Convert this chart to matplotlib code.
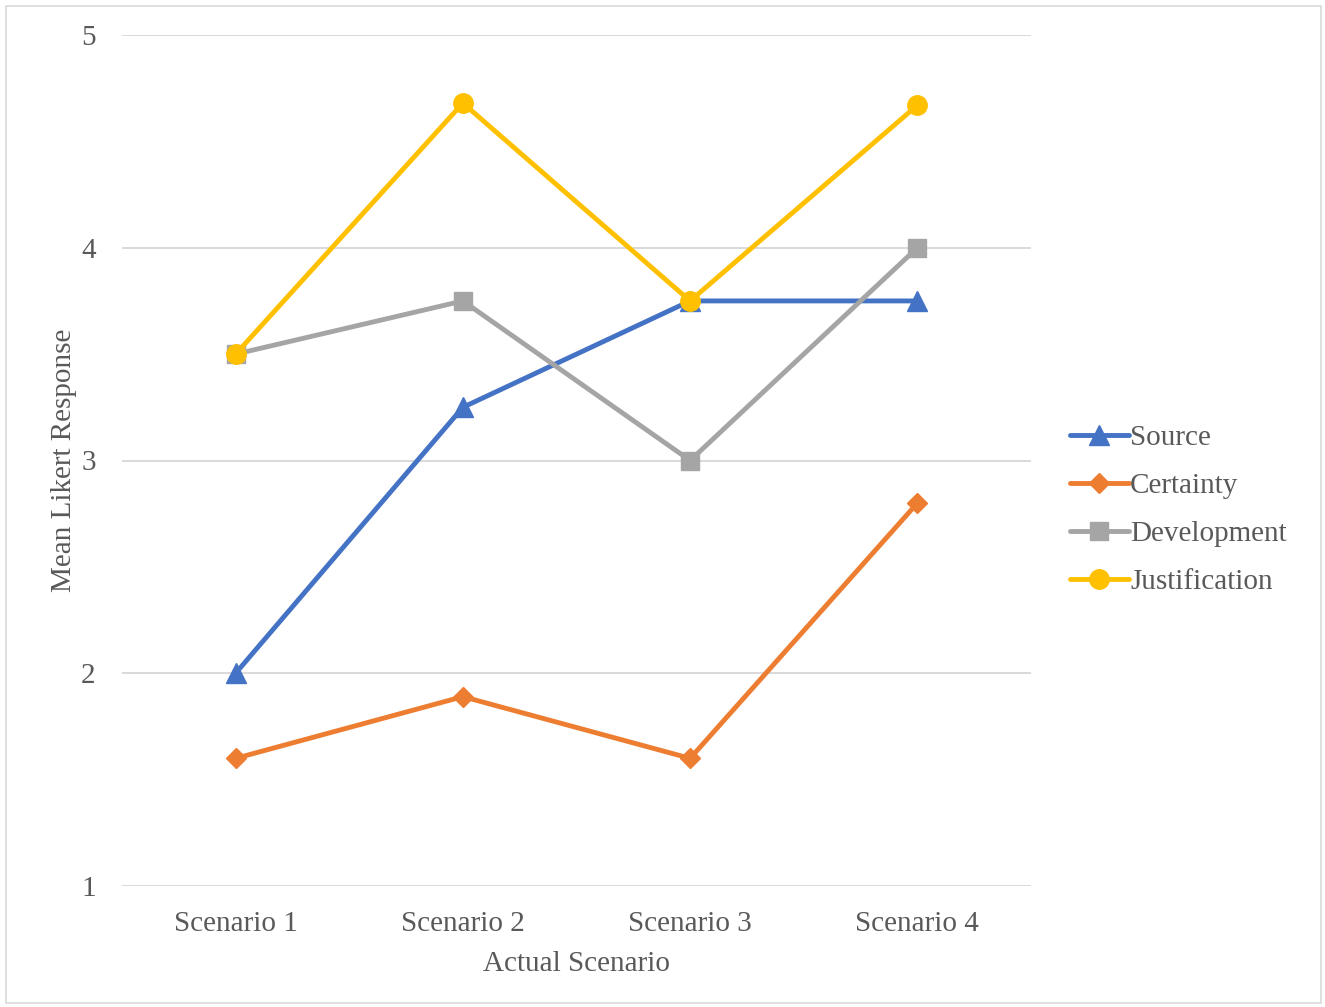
import matplotlib
matplotlib.use("Agg")
import matplotlib.pyplot as plt
from matplotlib.patches import Rectangle

plt.rcParams['font.family'] = ['Liberation Serif', 'DejaVu Serif']

categories = ["Scenario 1", "Scenario 2", "Scenario 3", "Scenario 4"]
source = [2.0, 3.25, 3.75, 3.75]
certainty = [1.6, 1.89, 1.6, 2.8]
development = [3.5, 3.75, 3.0, 4.0]
justification = [3.5, 4.68, 3.75, 4.67]
y_ticks = [1, 2, 3, 4, 5]

series = [
    ("Source", source, "#4472C4", "^", 14),
    ("Certainty", certainty, "#ED7D31", "D", 10),
    ("Development", development, "#A5A5A5", "s", 13),
    ("Justification", justification, "#FFC000", "o", 14),
]

text_color = "#595959"
fs = 21
fig = plt.figure(figsize=(13.25, 10.07), dpi=100)
ax = fig.add_axes([122 / 1325, 1 - 886 / 1007, (1031 - 122) / 1325, (886 - 35) / 1007])

x = list(range(len(categories)))
for name, vals, color, marker, ms in series:
    ax.plot(x, vals, color=color, lw=3.5, marker=marker, markersize=ms,
            label=name, solid_capstyle="round", solid_joinstyle="round", zorder=3)

ax.set_xlim(-0.5, len(categories) - 0.5)
ax.set_ylim(1, 5)
ax.set_yticks(y_ticks)
ax.set_xticks(x)
ax.set_xticklabels(categories)
ax.grid(axis="y", color="#D9D9D9", lw=1.4, zorder=0)
for s in ax.spines.values():
    s.set_visible(False)
ax.tick_params(axis="both", length=0, labelsize=fs, labelcolor=text_color)
ax.tick_params(axis="y", pad=19)
ax.tick_params(axis="x", pad=18)
ax.set_xlabel("Actual Scenario", fontsize=fs, color=text_color, labelpad=10)
ax.set_ylabel("Mean Likert Response", fontsize=fs, color=text_color, labelpad=3)

leg = fig.legend(loc="center left", bbox_to_anchor=(1044 / 1325, 1 - 510 / 1007),
                 frameon=False, fontsize=fs, handlelength=2.0, handletextpad=0.05,
                 labelspacing=0.74, labelcolor=text_color)

fig.patches.append(Rectangle((6 / 1325, 4 / 1007), 1315 / 1325, 997 / 1007,
                             transform=fig.transFigure, fill=False,
                             edgecolor="#D9D9D9", lw=1.2))

fig.savefig("out.png", dpi=100)
